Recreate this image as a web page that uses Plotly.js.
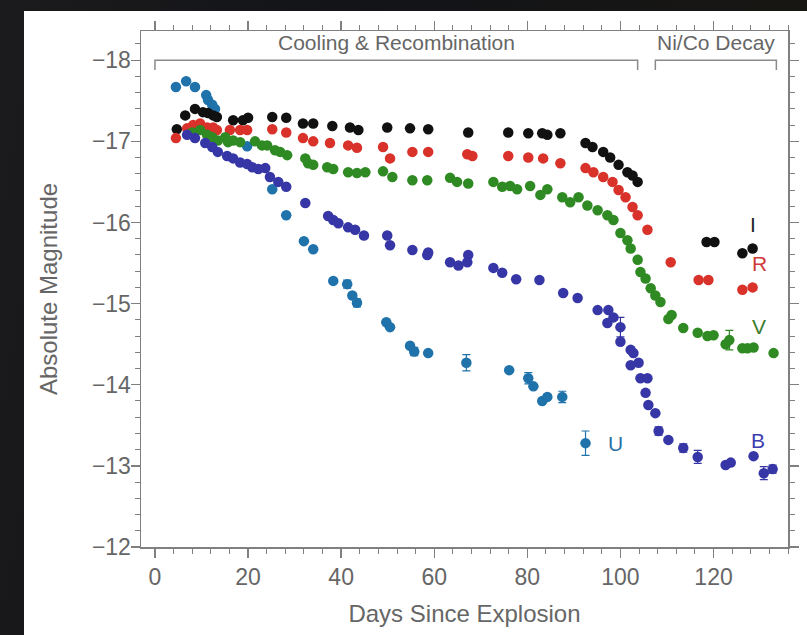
<!DOCTYPE html>
<html>
<head>
<meta charset="utf-8">
<script src="https://cdn.plot.ly/plotly-3.0.1.min.js"></script>
<style>
html,body{margin:0;padding:0;width:807px;height:635px;overflow:hidden;background:#15171c;}
#bg{position:absolute;left:0;top:0;width:807px;height:635px;
background:linear-gradient(100deg,#1b1a1c 0%,#121418 40%,#1a1712 100%);}
#plot{position:absolute;left:24px;top:11px;width:783px;height:624px;background:#fff;}
</style>
</head>
<body>
<div id="bg"></div>
<div id="plot"></div>
<script>
// ---- Data ----
const uDays = [4.5,6.7,8.6,11.0,11.4,12.3,12.9,19.8,25.2,28.2,32.0,34.0,38.3,41.3,42.4,43.4,49.7,50.5,54.8,55.7,58.7,66.9,76.1,80.2,81.3,83.2,84.3,87.5,92.5];
const uMag  = [-17.67,-17.74,-17.67,-17.57,-17.51,-17.45,-17.40,-16.94,-16.41,-16.09,-15.77,-15.67,-15.28,-15.24,-15.10,-15.01,-14.77,-14.71,-14.48,-14.41,-14.39,-14.27,-14.18,-14.08,-13.98,-13.80,-13.85,-13.85,-13.28];
const uErr  = [0,0,0,0,0,0,0,0,0,0,0,0,0,0.05,0,0.05,0,0,0,0.05,0,0.1,0,0.07,0,0,0,0.07,0.15];

const bDays = [6.9,8.6,10.8,12.3,13.5,15.5,16.8,18.3,19.8,20.9,22.2,23.7,24.7,26.5,28.2,32.3,37.2,38.3,39.4,41.5,43.0,44.9,49.9,50.5,55.3,58.5,58.7,63.4,65.2,67.1,67.3,72.7,74.6,77.6,82.6,87.7,90.8,95.1,97.4,97.2,98.5,100.0,100.0,102.2,102.8,102.2,103.9,104.3,105.8,105.4,106.0,107.5,108.2,110.3,113.5,116.6,122.6,123.7,128.6,130.8,132.7];
const bMag  = [-17.08,-17.04,-16.98,-16.93,-16.87,-16.82,-16.79,-16.74,-16.72,-16.68,-16.66,-16.67,-16.56,-16.50,-16.44,-16.24,-16.08,-16.03,-15.99,-15.94,-15.91,-15.84,-15.84,-15.72,-15.66,-15.60,-15.63,-15.51,-15.47,-15.51,-15.60,-15.44,-15.38,-15.30,-15.29,-15.13,-15.07,-14.92,-14.92,-14.76,-14.83,-14.71,-14.53,-14.43,-14.39,-14.24,-14.27,-14.08,-14.08,-13.90,-13.75,-13.65,-13.43,-13.32,-13.22,-13.11,-13.01,-13.04,-13.12,-12.91,-12.96];
const bErr  = [0,0,0,0,0,0,0,0,0,0,0,0,0,0,0,0,0,0,0,0,0,0,0,0,0,0,0,0,0,0,0,0,0,0,0,0,0,0,0,0,0,0.12,0,0,0,0,0,0,0,0,0,0,0.05,0,0.05,0.08,0,0,0,0.08,0.05];

const vDays = [8.0,9.7,11.2,12.3,13.5,15.1,15.7,16.8,18.3,21.5,23.0,24.1,25.8,26.9,28.4,32.3,32.9,34.0,37.0,38.3,41.5,43.4,45.2,49.0,51.0,55.3,58.5,63.4,64.9,67.3,72.7,74.6,76.3,77.8,80.6,82.8,84.3,87.5,89.2,91.0,92.9,95.1,97.2,98.5,100.0,101.5,102.2,103.7,104.3,105.4,106.5,107.5,108.6,110.3,111.0,113.5,116.6,118.7,120.0,122.6,123.4,126.2,127.3,128.6,132.9];
const vMag  = [-17.11,-17.14,-17.08,-17.05,-17.01,-17.05,-16.99,-17.01,-16.99,-17.00,-16.95,-16.95,-16.89,-16.87,-16.83,-16.79,-16.73,-16.71,-16.68,-16.66,-16.62,-16.61,-16.62,-16.63,-16.56,-16.52,-16.52,-16.55,-16.50,-16.48,-16.50,-16.44,-16.45,-16.41,-16.45,-16.34,-16.41,-16.31,-16.25,-16.31,-16.21,-16.15,-16.09,-16.03,-15.87,-15.78,-15.68,-15.54,-15.39,-15.31,-15.19,-15.10,-15.02,-14.81,-14.86,-14.70,-14.64,-14.60,-14.61,-14.50,-14.55,-14.45,-14.45,-14.46,-14.39];
const vErr  = [0,0,0,0,0,0,0,0,0,0,0,0,0,0,0,0,0,0,0,0,0,0,0,0,0,0,0,0,0,0,0,0,0,0,0,0,0,0,0,0,0,0,0,0,0,0,0,0,0,0,0,0,0,0,0,0,0,0,0,0,0.12,0,0,0,0];

const rDays = [4.5,6.9,8.2,9.7,11.2,12.5,13.3,16.1,18.3,19.8,25.2,28.2,31.8,34.0,37.6,41.5,43.4,49.0,50.5,55.3,58.7,67.1,68.2,75.9,80.2,83.4,87.1,92.5,94.2,96.3,98.3,99.6,101.1,102.6,103.7,105.8,110.8,116.8,118.9,126.2,128.4];
const rMag  = [-17.04,-17.16,-17.20,-17.22,-17.17,-17.17,-17.14,-17.14,-17.14,-17.14,-17.15,-17.11,-17.04,-17.00,-16.98,-16.95,-16.92,-16.93,-16.79,-16.87,-16.87,-16.84,-16.82,-16.82,-16.80,-16.79,-16.73,-16.67,-16.62,-16.56,-16.50,-16.40,-16.31,-16.19,-16.09,-15.91,-15.51,-15.29,-15.29,-15.17,-15.20];

const iDays = [4.7,6.5,8.6,10.3,11.4,12.5,13.3,16.8,18.9,20.0,25.2,28.2,31.8,34.0,38.1,41.9,43.7,49.9,54.8,58.7,67.3,75.9,80.2,83.2,84.3,87.1,92.5,94.0,96.3,97.8,99.6,101.5,102.6,103.7,118.5,120.2,126.2,128.4];
const iMag  = [-17.15,-17.32,-17.40,-17.36,-17.35,-17.32,-17.30,-17.26,-17.26,-17.29,-17.30,-17.29,-17.22,-17.22,-17.19,-17.17,-17.14,-17.17,-17.16,-17.15,-17.11,-17.11,-17.10,-17.10,-17.08,-17.10,-16.98,-16.93,-16.87,-16.80,-16.71,-16.62,-16.58,-16.50,-15.76,-15.76,-15.62,-15.68];

const bandNames  = ["U","B","V","R","I"];
const bandLabelX = [98.9,129.5,129.7,129.9,128.4];
const bandLabelY = [-13.27,-13.31,-14.72,-15.50,-15.97];

const phaseNames = ["Cooling &amp; Recombination","Ni/Co Decay"];
const phaseStart = [0,107.5];
const phaseEnd   = [103.7,133.5];

// ---- Styles ----
const colors = {U:"#1f72aa",B:"#3636a6",V:"#2f8a23",R:"#d8322a",I:"#111111"};
const labelColors = {U:"#2a6fa6",B:"#3d3db0",V:"#3d7d2d",R:"#d03a3a",I:"#222222"};
const gray = "#666666";
const axisGray = "#808080";

function series(name,x,y,err){
  const t = {type:"scatter",mode:"markers",name:name,x:x,y:y,
    marker:{color:colors[name],size:10.5,line:{width:0}},
    hoverinfo:"x+y"};
  if(err){t.error_y={type:"data",array:err,visible:true,color:colors[name],thickness:1.2,width:4};}
  return t;
}

const data = [
  series("U",uDays,uMag,uErr),
  series("I",iDays,iMag),
  series("R",rDays,rMag),
  series("V",vDays,vMag,vErr),
  series("B",bDays,bMag,bErr)
];

const font = "Liberation Sans, Arial, Helvetica, sans-serif";
const shapes = [];
const annotations = [];
for(let k=0;k<phaseNames.length;k++){
  const a=phaseStart[k], b=phaseEnd[k];
  shapes.push({type:"path",xref:"x",yref:"y",
    path:`M ${a},-17.88 L ${a},-18.0 L ${b},-18.0 L ${b},-17.88`,
    line:{color:"#8a8a8a",width:1.5}});
  annotations.push({xref:"x",yref:"y",x:(a+b)/2,y:-18.0,yshift:18,text:phaseNames[k],
    showarrow:false,font:{family:font,size:21,color:gray}});
}
for(let k=0;k<bandNames.length;k++){
  annotations.push({xref:"x",yref:"y",x:bandLabelX[k],y:bandLabelY[k],text:bandNames[k],
    showarrow:false,font:{family:font,size:21,color:labelColors[bandNames[k]]}});
}

const axisCommon = {
  showline:true,linecolor:axisGray,linewidth:1.5,mirror:"ticks",
  ticks:"outside",ticklen:9,tickwidth:1.3,tickcolor:axisGray,
  showgrid:false,zeroline:false,
  tickfont:{family:font,size:23,color:gray}
};

const layout = {
  width:783,height:624,
  paper_bgcolor:"#ffffff",plot_bgcolor:"#ffffff",
  showlegend:false,
  margin:{l:117,r:19,t:20,b:88},
  xaxis:Object.assign({},axisCommon,{
    range:[-3,136],tick0:0,dtick:20,
    minor:{dtick:4,ticklen:5,ticks:"outside",tickcolor:axisGray,tickwidth:1},
    title:{text:"Days Since Explosion",font:{family:font,size:24,color:gray},standoff:16}
  }),
  yaxis:Object.assign({},axisCommon,{
    range:[-12,-18.36],tick0:-18,dtick:1,ticklabelstandoff:-5,
    minor:{dtick:0.2,ticklen:5,ticks:"outside",tickcolor:axisGray,tickwidth:1},
    title:{text:"Absolute Magnitude",font:{family:font,size:24,color:gray},standoff:27}
  }),
  shapes:shapes,
  annotations:annotations
};

Plotly.newPlot("plot",data,layout,{displayModeBar:false,staticPlot:true});
</script>
</body>
</html>
